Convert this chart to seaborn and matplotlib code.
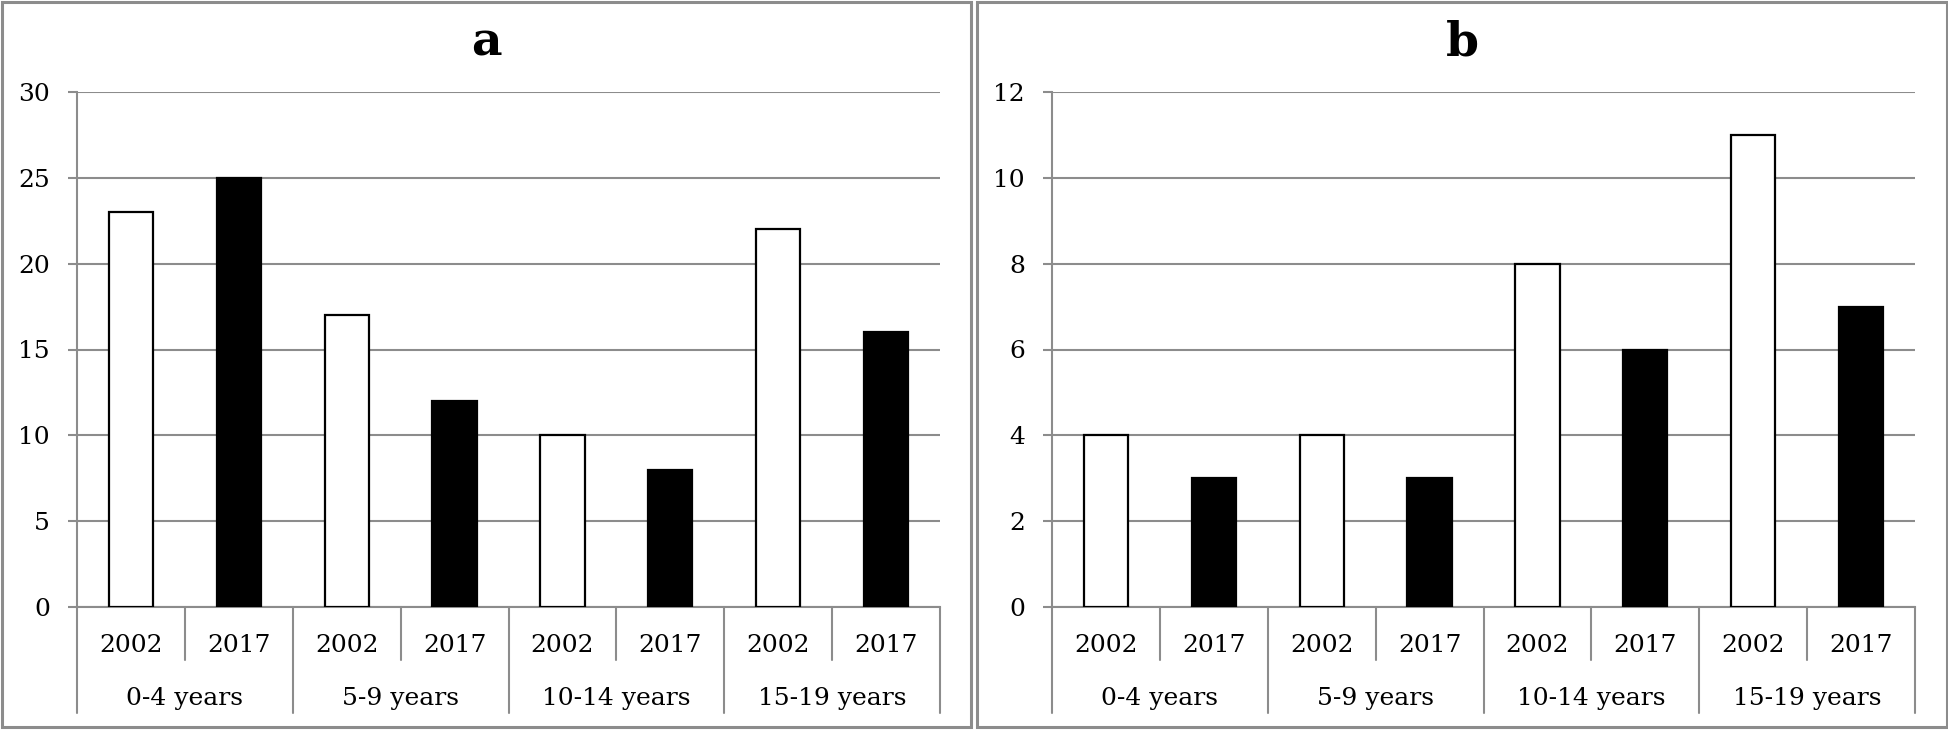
import pandas as pd
import seaborn as sns
import matplotlib
matplotlib.use('Agg')
import matplotlib.pyplot as plt
from matplotlib.patches import Rectangle
from matplotlib.transforms import blended_transform_factory

# data
groups = ['0-4 years', '5-9 years', '10-14 years', '15-19 years']
years = ['2002', '2017']
a_2002 = [23, 17, 10, 22]
a_2017 = [25, 12, 8, 16]
b_2002 = [4, 4, 8, 11]
b_2017 = [3, 3, 6, 7]

sns.set_style('white')
plt.rcParams['font.family'] = ['DejaVu Serif']
plt.rcParams['text.color'] = 'black'
plt.rcParams['ytick.labelcolor'] = 'black'

GRAY = '#8c8c8c'
FS = 18


def make_df(v2002, v2017):
    rows = []
    for g, x1, x2 in zip(groups, v2002, v2017):
        rows.append({'slot': g + ' 2002', 'year': '2002', 'value': x1})
        rows.append({'slot': g + ' 2017', 'year': '2017', 'value': x2})
    return pd.DataFrame(rows)


def draw(ax, df, ymax, ystep, title, panel_cx):
    order = list(df['slot'])
    sns.barplot(data=df, x='slot', y='value', hue='year', order=order,
                palette={'2002': 'white', '2017': 'black'}, dodge=False,
                width=0.41, edgecolor='black', linewidth=1.6, legend=False,
                ax=ax, zorder=3)
    ax.set_xlim(-0.5, 7.5)
    ax.set_ylim(0, ymax)
    ax.set_yticks(range(0, ymax + 1, ystep))
    ax.yaxis.grid(True, color=GRAY, linewidth=1.5, zorder=0)
    ax.set_axisbelow(True)
    ax.set_xticks([])
    ax.set_xlabel('')
    ax.set_ylabel('')
    ax.tick_params(axis='y', length=6.5, width=1.5, color=GRAY, pad=13,
                   labelsize=FS, labelcolor='black', left=True)
    for s in ['top', 'right']:
        ax.spines[s].set_visible(False)
    for s in ['left', 'bottom']:
        ax.spines[s].set_color(GRAY)
        ax.spines[s].set_linewidth(1.5)

    tr = blended_transform_factory(ax.transData, ax.transAxes)
    # category axis separators and labels
    for i in range(9):
        x = i - 0.5
        depth = -0.206 if i % 2 == 0 else -0.103
        ax.plot([x, x], [0, depth], transform=tr, clip_on=False,
                color=GRAY, linewidth=1.5)
    for i in range(8):
        ax.text(i, -0.074, years[i % 2], transform=tr, ha='center',
                va='center', fontsize=FS, color='black')
    for j, g in enumerate(groups):
        ax.text(2 * j + 0.5, -0.177, g, transform=tr, ha='center',
                va='center', fontsize=FS, color='black')
    ax.figure.text(panel_cx, 0.942, title, ha='center', va='center',
                   fontsize=34, fontweight='bold', color='black')


fig = plt.figure(figsize=(19.48, 7.30), dpi=100)
W, H = 1948, 730
ax_a = fig.add_axes([77 / W, 123 / H, 863 / W, 515 / H])
ax_b = fig.add_axes([1052 / W, 123 / H, 863 / W, 515 / H])

draw(ax_a, make_df(a_2002, a_2017), 30, 5, 'a', 486 / W)
draw(ax_b, make_df(b_2002, b_2017), 12, 2, 'b', 1462 / W)

# panel frames
for x0, x1 in [(1.5, 971), (977, 1946.5)]:
    fig.patches.append(Rectangle((x0 / W, 3 / H), (x1 - x0) / W, 725.5 / H,
                                 transform=fig.transFigure, fill=False,
                                 edgecolor=GRAY, linewidth=2.2))

fig.savefig('out.png', dpi=100)
